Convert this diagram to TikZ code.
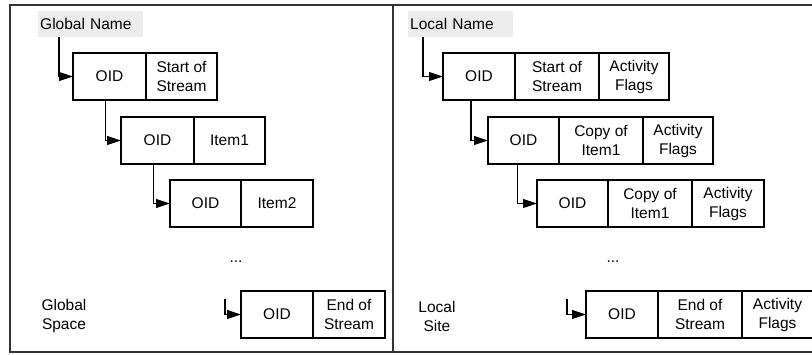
\documentclass[tikz,border=0pt]{standalone}
\usepackage{fontspec}
\setmainfont{Liberation Sans}
\usetikzlibrary{arrows.meta,positioning}

\tikzset{
  cell/.style={draw,line width=1.1pt,inner sep=0pt,outer sep=0pt,minimum width=#1,
    minimum height=47pt,align=center},
  namebox/.style={fill=gray!15,inner sep=1pt,minimum width=105pt,minimum height=26pt,
    text width=101pt,align=left},
  link/.style={line width=1.1pt,-{Triangle[length=14pt,width=9pt]}},
  frame/.style={line width=1.5pt,black!80}
}

\begin{document}
\begin{tikzpicture}[x=1pt,y=-1pt,font=\fontsize{15.5}{19}\selectfont]
\useasboundingbox (0,0) rectangle (812,354);
\clip (0,0) rectangle (812,354);

% frames
\draw[frame] (10,5) rectangle (393,352);
\draw[frame] (393,5) -- (820,5);
\draw[frame] (393,352) -- (820,352);

% global space
\node[namebox,anchor=north west] (gname) at (38,11) {Global Name};

\node[cell=73pt,anchor=north west] (g1oid) at (73,53) {OID};
\node[cell=71pt,right=0pt of g1oid] (g1data) {Start of\\Stream};

\node[cell=73pt,anchor=north west] (g2oid) at (121,117) {OID};
\node[cell=71pt,right=0pt of g2oid] (g2data) {Item1};

\node[cell=71pt,anchor=north west] (g3oid) at (170,180) {OID};
\node[cell=72pt,right=0pt of g3oid] (g3data) {Item2};

\node (gdots) at (236,262) {...};

\node[cell=72pt,anchor=north west] (g4oid) at (241,291) {OID};
\node[cell=72pt,right=0pt of g4oid] (g4data) {End of\\Stream};

\node[align=center] (gspace) at (64,316) {Global\\Space};

\coordinate (g4in) at (225,299);
\draw[link] ([xshift=21pt]gname.south west) |- (g1oid.west);
\draw[link] ([xshift=-4pt]g1oid.south) |- (g2oid.west);
\draw[link] ([xshift=-4pt]g2oid.south) |- (g3oid.west);
\draw[link] (g4in) |- (g4oid.west);

% local site
\node[namebox,anchor=north west] (lname) at (408,11) {Local Name};

\node[cell=72pt,anchor=north west] (l1oid) at (443,53) {OID};
\node[cell=84pt,right=0pt of l1oid] (l1data) {Start of\\Stream};
\node[cell=70pt,right=0pt of l1data] (l1flag) {Activity\\Flags};

\node[cell=71pt,anchor=north west] (l2oid) at (488,117) {OID};
\node[cell=84pt,right=0pt of l2oid] (l2data) {Copy of\\Item1};
\node[cell=70pt,right=0pt of l2data] (l2flag) {Activity\\Flags};

\node[cell=71pt,anchor=north west] (l3oid) at (537,180) {OID};
\node[cell=84pt,right=0pt of l3oid] (l3data) {Copy of\\Item1};
\node[cell=72pt,right=0pt of l3data] (l3flag) {Activity\\Flags};

\node (ldots) at (613,262) {...};

\node[cell=72pt,anchor=north west] (l4oid) at (586,291) {OID};
\node[cell=84pt,right=0pt of l4oid] (l4data) {End of\\Stream};
\node[cell=71pt,right=0pt of l4data] (l4flag) {Activity\\Flags};

\node[align=center] (lsite) at (437,316) {Local\\Site};

\coordinate (l4in) at (567,299);
\draw[link] ([xshift=15pt]lname.south west) |- (l1oid.west);
\draw[link] ([xshift=-8pt]l1oid.south) |- (l2oid.west);
\draw[link] ([xshift=-6pt]l2oid.south) |- (l3oid.west);
\draw[link] (l4in) |- (l4oid.west);
\end{tikzpicture}
\end{document}
